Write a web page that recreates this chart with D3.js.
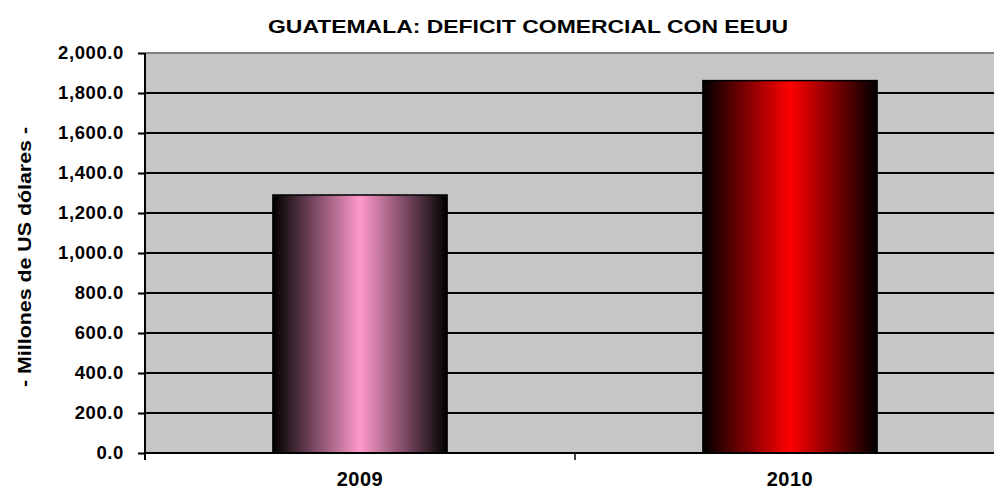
<!DOCTYPE html>
<html lang="es">
<head>
  <meta charset="utf-8">
  <title>Guatemala: deficit comercial</title>
  <script src="https://cdn.jsdelivr.net/npm/d3@7"></script>
  <style>
    body { margin: 0; background: #fff; }
    text { font-family: "Liberation Sans", Arial, sans-serif; font-weight: bold; fill: #000; }
  </style>
</head>
<body>
  <script>
    var years = ["2009", "2010"];
    var deficit = [1290, 1862];
    var yTicks = [0, 200, 400, 600, 800, 1000, 1200, 1400, 1600, 1800, 2000];
    var barColors = ["#ff99cc", "#ff0000"];

    var w = 994, h = 493;
    var margin = { top: 53, left: 145, right: -11, bottom: 40 };
    var width = w - margin.left - margin.right;
    var height = h - margin.top - margin.bottom;

    var svg = d3.select("body").append("svg")
                .attr("width", w)
                .attr("height", h);

    var defs = svg.append("defs");
    barColors.forEach(function(c, i) {
      var g = defs.append("linearGradient")
                  .attr("id", "grad" + i)
                  .attr("x1", "0%").attr("x2", "100%")
                  .attr("y1", "0%").attr("y2", "0%");
      g.append("stop").attr("offset", "0%").attr("stop-color", "#000");
      g.append("stop").attr("offset", "50%").attr("stop-color", c);
      g.append("stop").attr("offset", "100%").attr("stop-color", "#000");
    });

    var chart = svg.append("g")
                   .attr("transform", "translate(" + margin.left + "," + margin.top + ")");

    var x = d3.scaleBand()
              .domain(years)
              .range([0, width])
              .paddingInner(0.595)
              .paddingOuter(0.2975);
    var y = d3.scaleLinear()
              .domain([0, 2000])
              .range([height, 0]);

    // plot background
    chart.append("rect")
         .attr("x", 0).attr("y", 0)
         .attr("width", width).attr("height", height)
         .attr("fill", "#c6c6c6");

    // grid lines
    chart.selectAll(".grid")
         .data(yTicks.filter(function(d) { return d > 0 && d < 2000; }))
         .enter()
           .append("line")
           .attr("x1", 0).attr("x2", width)
           .attr("y1", function(d) { return y(d); })
           .attr("y2", function(d) { return y(d); })
           .attr("stroke", "#000")
           .attr("stroke-width", 2);
    chart.append("line")
         .attr("x1", 0).attr("x2", width)
         .attr("y1", y(2000)).attr("y2", y(2000))
         .attr("stroke", "#808080")
         .attr("stroke-width", 2);

    // bars
    chart.selectAll(".bar")
         .data(deficit)
         .enter()
           .append("rect")
           .attr("x", function(d, i) { return x(years[i]); })
           .attr("y", function(d) { return y(d); })
           .attr("width", x.bandwidth())
           .attr("height", function(d) { return height - y(d); })
           .attr("fill", function(d, i) { return "url(#grad" + i + ")"; })
           .attr("stroke", "#000")
           .attr("stroke-width", 1.5);

    // y axis
    var yAxis = d3.axisLeft(y)
                  .tickValues(yTicks)
                  .tickSize(7)
                  .tickPadding(14)
                  .tickFormat(d3.format(",.1f"));
    var ya = chart.append("g").call(yAxis);
    ya.select(".domain").attr("stroke", "#000").attr("stroke-width", 2).attr("d", "M0,0V" + (height + 7));
    ya.selectAll(".tick line").attr("stroke", "#000").attr("stroke-width", 2);
    ya.selectAll("text")
      .style("font-size", "18.5px")
      .style("letter-spacing", "0.6px");

    // x axis
    var xa = chart.append("g").attr("transform", "translate(0," + height + ")");
    xa.append("line")
      .attr("x1", 0).attr("x2", width)
      .attr("stroke", "#000").attr("stroke-width", 2);
    xa.append("line")
      .attr("x1", width / 2).attr("x2", width / 2)
      .attr("y1", 0).attr("y2", 7)
      .attr("stroke", "#000").attr("stroke-width", 1.5);
    xa.selectAll(".xlab")
      .data(years)
      .enter()
        .append("text")
        .attr("x", function(d) { return x(d) + x.bandwidth() / 2; })
        .attr("y", 33)
        .attr("text-anchor", "middle")
        .style("font-size", "20px")
        .style("letter-spacing", "0.5px")
        .text(function(d) { return d; });

    // title
    svg.append("text")
       .attr("x", 268).attr("y", 33)
       .attr("textLength", 520)
       .attr("lengthAdjust", "spacingAndGlyphs")
       .style("font-size", "18.5px")
       .text("GUATEMALA: DEFICIT COMERCIAL CON EEUU");

    // y label
    svg.append("text")
       .attr("transform", "translate(31,387) rotate(-90)")
       .attr("textLength", 260)
       .attr("lengthAdjust", "spacingAndGlyphs")
       .style("font-size", "19px")
       .text("- Millones de US dólares -");
  </script>
</body>
</html>
